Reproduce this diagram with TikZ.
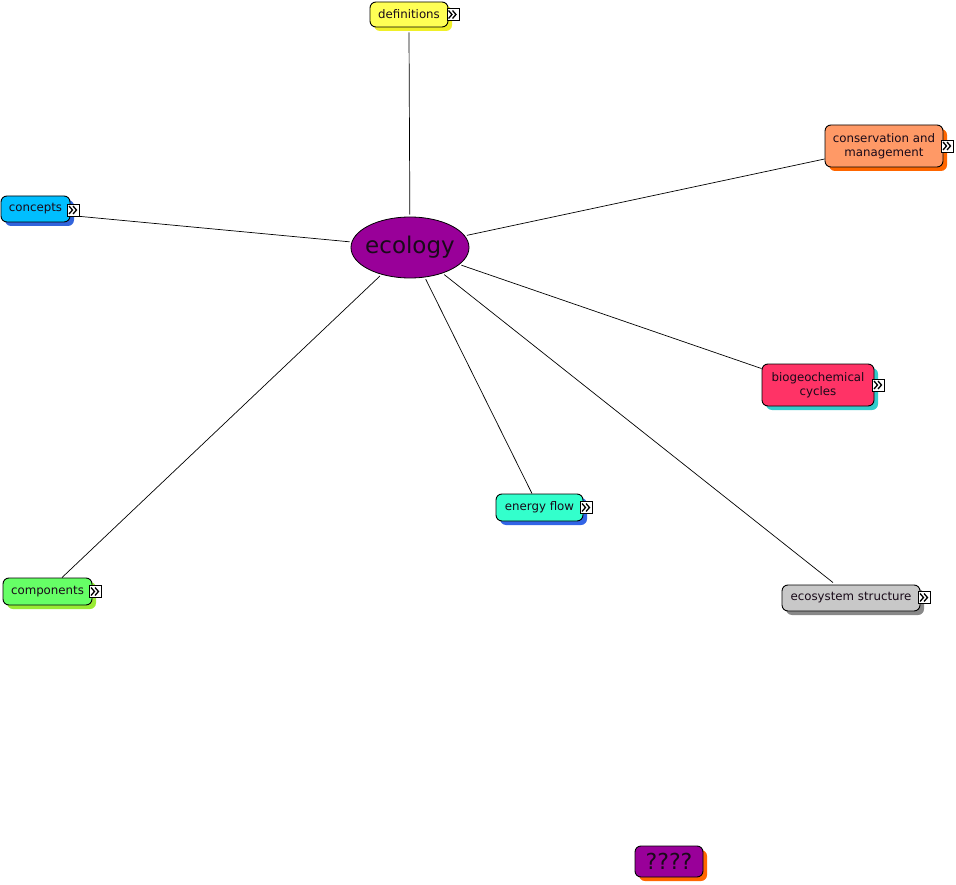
\documentclass[tikz,border=0pt]{standalone}
\usepackage{fontspec}
\setmainfont{DejaVu Sans}
\usetikzlibrary{shapes.geometric,shadows,calc}
\definecolor{purp}{HTML}{990099}
\definecolor{defF}{RGB}{255,255,85}
\definecolor{defS}{RGB}{240,240,40}
\definecolor{concF}{RGB}{0,190,255}
\definecolor{concS}{RGB}{50,100,220}
\definecolor{consF}{RGB}{255,153,102}
\definecolor{consS}{RGB}{255,102,0}
\definecolor{bioF}{RGB}{255,51,102}
\definecolor{bioS}{RGB}{51,204,204}
\definecolor{enerF}{RGB}{51,255,204}
\definecolor{enerS}{RGB}{50,100,230}
\definecolor{compF}{RGB}{102,255,102}
\definecolor{compS}{RGB}{153,235,51}
\definecolor{ecosF}{RGB}{200,200,200}
\definecolor{ecosS}{RGB}{136,136,136}
\definecolor{unkS}{RGB}{255,102,0}
\definecolor{txt}{RGB}{25,10,25}
\tikzset{
  topic/.style={draw=black, line width=0.9pt, rounded corners=6pt, inner sep=0pt, align=center,
    font=\fontsize{11.8}{14}\selectfont, text=txt},
  shade/.style={drop shadow={shadow xshift=4pt, shadow yshift=-4pt, fill=#1, opacity=1}},
  expicon/.style={draw=black, line width=0.8pt, fill=white, minimum size=12pt, inner sep=0pt,
    path picture={
      \draw[line width=1.3pt] ([shift={(-4.5pt,4pt)}]path picture bounding box.center) -- ([shift={(-1pt,0pt)}]path picture bounding box.center) -- ([shift={(-4.5pt,-4pt)}]path picture bounding box.center);
      \draw[line width=1.3pt] ([shift={(-0.5pt,4pt)}]path picture bounding box.center) -- ([shift={(3pt,0pt)}]path picture bounding box.center) -- ([shift={(-0.5pt,-4pt)}]path picture bounding box.center);
    }},
  link/.style={draw=black, line width=0.7pt, shorten <=2pt}
}
\begin{document}
\begin{tikzpicture}[x=1pt,y=-1pt]
\useasboundingbox[fill=white] (0,0) rectangle (956,885);

\node[ellipse, draw=black, line width=0.8pt, fill=purp, minimum width=118pt, minimum height=61pt, inner sep=0pt,
  font=\fontsize{23}{26}\selectfont, text=txt] (eco) at (410,247.5) {\makebox[0pt]{ecology}};

\node[topic, fill=defF, shade=defS, minimum width=78pt, minimum height=25pt] (def) at (409,14.5) {definitions};
\node[expicon] (def-ic) at (453,14.5) {};

\node[topic, fill=concF, shade=concS, minimum width=69pt, minimum height=26pt] (conc) at (35.5,209) {concepts};
\node[expicon] (conc-ic) at (73.5,210) {};

\node[topic, fill=consF, shade=consS, minimum width=118pt, minimum height=42pt] (cons) at (884,146) {conservation and\\management};
\node[expicon] (cons-ic) at (947.5,146) {};

\node[topic, fill=bioF, shade=bioS, minimum width=112pt, minimum height=42pt] (bio) at (818,385) {biogeochemical\\cycles};
\node[expicon] (bio-ic) at (878.5,385) {};

\node[topic, fill=enerF, shade=enerS, minimum width=87pt, minimum height=27pt] (ener) at (539.5,507.5) {energy flow};
\node[expicon] (ener-ic) at (586.5,507.5) {};

\node[topic, fill=compF, shade=compS, minimum width=89pt, minimum height=27pt] (comp) at (47.5,591.5) {components};
\node[expicon] (comp-ic) at (95.5,591.5) {};

\node[topic, fill=ecosF, shade=ecosS, minimum width=138pt, minimum height=26pt] (ecos) at (851,598) {ecosystem structure};
\node[expicon] (ecos-ic) at (924.5,597.5) {};

\node[topic, fill=purp, shade=unkS, minimum width=68pt, minimum height=31pt, font=\fontsize{22}{24}\selectfont] (unk) at (669,861.5) {????};

\draw[link] (eco) -- ($(def.south)+(0,5)$);
\draw[link] (eco) -- (conc-ic.south east);
\draw[link] (eco) -- ($(cons.west)+(0,13)$);
\draw[link] (eco) -- ($(bio.north west)+(0,5)$);
\draw[link] (eco) -- ($(ener.north)+(-7.5,0)$);
\draw[link] (eco) -- ($(ecos.north)+(-18,-2)$);
\draw[link] (eco) -- ($(comp.north)+(14.5,0)$);
\end{tikzpicture}
\end{document}
